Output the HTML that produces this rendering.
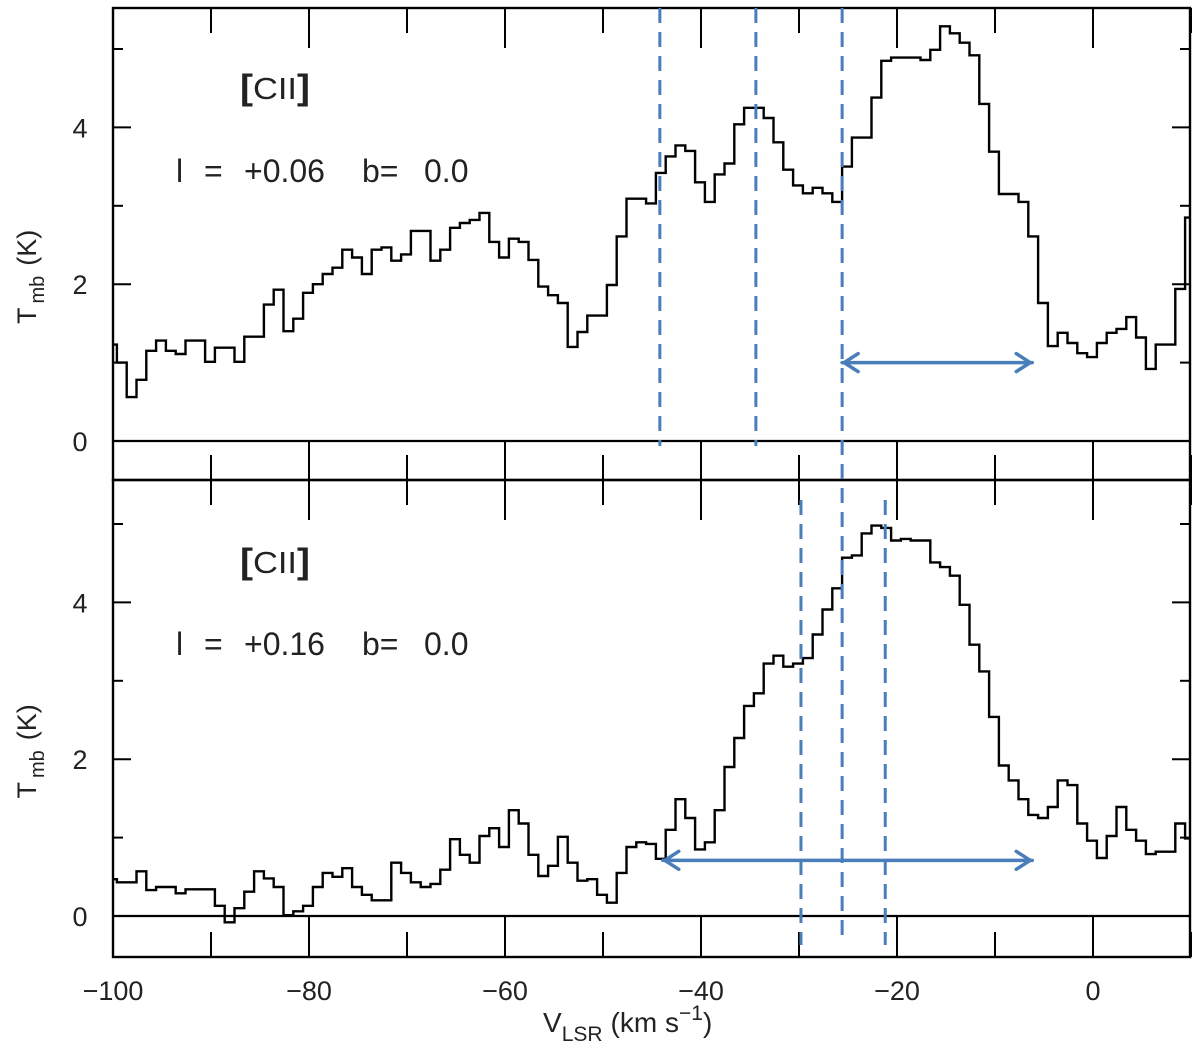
<!DOCTYPE html>
<html><head><meta charset="utf-8"><style>
html,body{margin:0;padding:0;background:#fff;}
svg{display:block;font-family:"Liberation Sans","DejaVu Sans",sans-serif;}
</style></head><body>
<svg id="chart" width="1200" height="1055" viewBox="0 0 1200 1055" xmlns="http://www.w3.org/2000/svg"></svg>
<script>
const binStart = -100.6;
const binWidth = 1;
const topSeries = [1.23,1.0,0.56,0.78,1.15,1.28,1.15,1.11,1.28,1.28,1.01,1.19,1.19,1.01,1.33,1.33,1.74,1.93,1.4,1.56,1.89,2.0,2.13,2.21,2.44,2.34,2.13,2.44,2.47,2.3,2.38,2.68,2.68,2.3,2.44,2.72,2.78,2.82,2.91,2.54,2.34,2.58,2.54,2.31,1.97,1.86,1.76,1.2,1.39,1.6,1.6,1.99,2.61,3.09,3.09,3.03,3.42,3.63,3.77,3.7,3.3,3.05,3.4,3.54,4.04,4.25,4.25,4.12,3.81,3.46,3.26,3.16,3.23,3.16,3.05,3.5,3.87,3.87,4.38,4.85,4.89,4.89,4.89,4.86,4.99,5.29,5.2,5.08,4.92,4.3,3.69,3.15,3.15,3.05,2.61,1.76,1.21,1.38,1.25,1.12,1.07,1.25,1.38,1.43,1.58,1.32,0.92,1.23,1.23,1.94,2.85];
const bottomSeries = [0.47,0.43,0.43,0.57,0.33,0.37,0.37,0.29,0.34,0.34,0.34,0.13,-0.08,0.1,0.31,0.57,0.48,0.37,0.01,0.06,0.13,0.37,0.55,0.5,0.61,0.37,0.27,0.2,0.2,0.68,0.55,0.43,0.37,0.41,0.59,0.98,0.78,0.68,1.02,1.12,0.88,1.35,1.18,0.78,0.51,0.64,1.01,0.68,0.45,0.47,0.27,0.17,0.55,0.88,0.94,0.92,0.73,1.1,1.49,1.25,0.85,0.94,1.35,1.9,2.27,2.68,2.84,3.22,3.32,3.18,3.22,3.29,3.59,3.91,4.18,4.57,4.6,4.88,4.98,4.95,4.79,4.81,4.79,4.79,4.51,4.45,4.34,3.97,3.46,3.12,2.54,1.92,1.73,1.49,1.29,1.25,1.39,1.73,1.67,1.18,0.96,0.74,1.02,1.39,1.1,0.96,0.79,0.82,0.82,1.18,0.99];
const xTickLabels = [-100,-80,-60,-40,-20,0];
const yTickLabels = [0,2,4];
const topDashed = [-44.2,-34.4,-25.6];
const bottomDashed = [-29.8,-21.2];
const topArrow = [-25.6,-6.2];
const bottomArrow = [-43.9,-6.2];
const topArrowT = 1.0;
const bottomArrowT = 0.71;

const NS = "http://www.w3.org/2000/svg";
const svg = document.getElementById('chart');
const X0 = 113, X1 = 1190;
const xs = v => 1093 + v * 9.8;
const panels = [
  {top: 8, bot: 480, y0: 441, lval: "+0.06", labY: 170, cY: 88, data: topSeries, name: 'top'},
  {top: 480, bot: 957, y0: 916, lval: "+0.16", labY: 643, cY: 562, data: bottomSeries, name: 'bottom'}
];
const kpp = 78.4;
function el(tag, attrs, parent) {
  const e = document.createElementNS(NS, tag);
  for (const k in attrs) e.setAttribute(k, attrs[k]);
  (parent || svg).appendChild(e);
  return e;
}
panels.forEach(p => {
  const ys = t => p.y0 - t * kpp;
  const g = el('g', {});
  
  
  let d = '';
  p.data.forEach((t, i) => {
    const a = Math.max(-100, binStart + i * binWidth), b = Math.min(10, binStart + (i + 1) * binWidth);
    if (b <= a) return;
    d += (d ? 'L' : 'M') + xs(a).toFixed(1) + ' ' + ys(t).toFixed(1) + 'L' + xs(b).toFixed(1) + ' ' + ys(t).toFixed(1);
  });
  const sp = el('path', {d: d, fill: 'none', stroke: '#000', 'stroke-width': 2.4}, g);
  
  
  const z = el('line', {x1: X0, x2: X1, y1: p.y0, y2: p.y0, stroke: '#000', 'stroke-width': 2.2}, g);
  
  
  const fr = el('rect', {x: X0, y: p.top, width: X1 - X0, height: p.bot - p.top, fill: 'none', stroke: '#000', 'stroke-width': 2.4}, g);
  
  
  for (let t = 0; t <= 5; t++) {
    const L = t % 2 === 0 ? 18 : 10;
    el('line', {x1: X0, x2: X0 + L, y1: ys(t), y2: ys(t), stroke: '#000', 'stroke-width': 2}, g);
    el('line', {x1: X1, x2: X1 - L, y1: ys(t), y2: ys(t), stroke: '#000', 'stroke-width': 2}, g);
  }
  yTickLabels.forEach(t => {
    const tx = el('text', {x: 80, y: ys(t) + 10, 'font-size': 27, 'text-anchor': 'middle', fill: '#222'}, g);
    tx.textContent = t;
    
    
  });
  for (let v = -100; v <= 10; v += 10) {
    const L = v % 20 === 0 ? 40 : 25;
    el('line', {x1: xs(v), x2: xs(v), y1: p.bot, y2: p.bot - L, stroke: '#000', 'stroke-width': 2}, g);
    el('line', {x1: xs(v), x2: xs(v), y1: p.top, y2: p.top + L, stroke: '#000', 'stroke-width': 2}, g);
  }
  const yt = el('text', {transform: `translate(36 ${(p.top + p.bot) / 2 + 80}) rotate(-90)`, 'font-size': 27, fill: '#222'}, g);
  yt.innerHTML = 'T<tspan font-size="20" dy="8" dx="4">mb</tspan><tspan dy="-8" dx="10">(K)</tspan>';
  
  
  const c = el('text', {x: 240, y: p.cY + 11, 'font-size': 31, fill: '#222', textLength: 70, lengthAdjust: 'spacingAndGlyphs'}, g);
  c.innerHTML = '<tspan font-weight="bold" font-size="35">[</tspan>CII<tspan font-weight="bold" font-size="35">]</tspan>';
  
  
  const l = el('text', {y: p.labY + 12, 'font-size': 32, fill: '#222'}, g);
  l.innerHTML = `<tspan x="176">l</tspan><tspan x="204">=</tspan><tspan x="244">${p.lval}</tspan><tspan x="362">b=</tspan><tspan x="424">0.0</tspan>`;
  
  
});
xTickLabels.forEach(v => {
  const t = el('text', {x: xs(v), y: 1000, 'font-size': 27, 'text-anchor': 'middle', fill: '#222'});
  t.textContent = (v < 0 ? '\u2212' + (-v) : v);
  
  
});
const xt = el('text', {x: 543, y: 1032, 'font-size': 28, fill: '#222'});
xt.innerHTML = 'V<tspan font-size="21" dy="9">LSR</tspan><tspan dy="-9" dx="8">(km  s</tspan><tspan font-size="21" dy="-12">\u22121</tspan><tspan dy="12">)</tspan>';
xt.setAttribute('xml:space', 'preserve');


const blue = '#4a7ebb';
topDashed.forEach((v, i) => {
  const ln = el('line', {x1: xs(v), x2: xs(v), y1: 8, y2: i === 2 ? 942 : 446, stroke: blue, 'stroke-width': 3, 'stroke-dasharray': '15 9'});
  
  
});
bottomDashed.forEach(v => {
  const ln = el('line', {x1: xs(v), x2: xs(v), y1: 500, y2: 945, stroke: blue, 'stroke-width': 3, 'stroke-dasharray': '15 9'});
  
  
});
function arrow(a, b, y, name) {
  const x1 = xs(a), x2 = xs(b);
  const g = el('g', {stroke: blue, 'stroke-width': 3.5, fill: 'none', 'stroke-linecap': 'round'});
  
  
  el('line', {x1: x1, x2: x2, y1: y, y2: y}, g);
  el('polyline', {points: `${x1 + 16},${y - 9} ${x1 + 2},${y} ${x1 + 16},${y + 9}`}, g);
  el('polyline', {points: `${x2 - 16},${y - 9} ${x2 - 2},${y} ${x2 - 16},${y + 9}`}, g);
}
arrow(topArrow[0], topArrow[1], 441 - topArrowT * kpp, 'top-velocity-range-arrow');
arrow(bottomArrow[0], bottomArrow[1], 916 - bottomArrowT * kpp, 'bottom-velocity-range-arrow');
</script>
</body></html>
